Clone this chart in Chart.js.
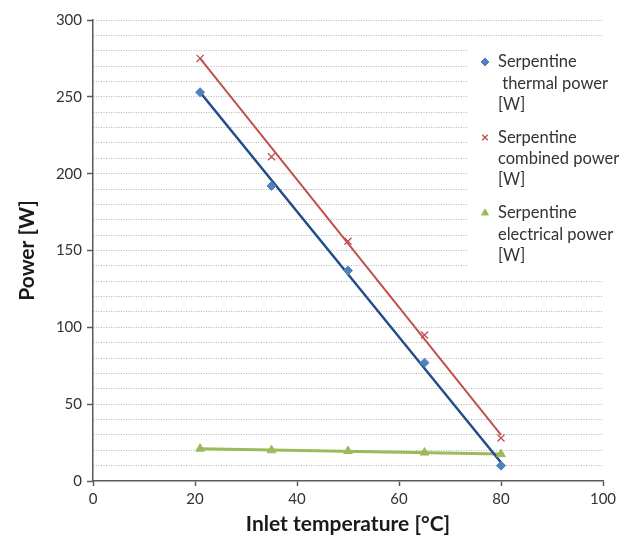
<!DOCTYPE html>
<html>
<head>
<meta charset="utf-8">
<script src="https://cdn.jsdelivr.net/npm/chart.js@4.4.0/dist/chart.umd.min.js"></script>
<style>
  html, body { margin: 0; padding: 0; background: #fff; }
  #wrap { width: 626px; height: 539px; position: relative; }
</style>
</head>
<body>
<div id="wrap"><canvas id="chart"></canvas></div>
<script>
// inlet temperatures [°C]
const temps = [21, 35, 50, 65, 80];
// measured power [W]
const thermalPower = [253, 192, 137, 77, 10];
const combinedPower = [275, 211, 156, 95, 28];
const electricalPower = [21, 20, 19.5, 18.5, 17.5];

// linear trend lines, end points
const trendX = [21, 80];
const thermalTrend = [253, 12];
const combinedTrend = [275, 30];
const electricalTrend = [21, 17.5];

const seriesLabels = [
  "Serpentine\n thermal power\n[W]",
  "Serpentine\ncombined power\n[W]",
  "Serpentine\nelectrical power\n[W]"
];

const xTicks = [0, 20, 40, 60, 80, 100];
const yTicks = [0, 50, 100, 150, 200, 250, 300];

const FONT = "Lato";
const TEXT = "#333";
const AXIS = "#5a5a5a";

const pts = (xs, ys) => xs.map((x, i) => ({ x: x, y: ys[i] }));

//Legend in a white box drawn over the plot on the right
const boxLegend = {
  id: "boxLegend",
  beforeDatasetsDraw(chart) {
    const ctx = chart.ctx;
    ctx.save();
    ctx.fillStyle = "#fff";
    ctx.fillRect(468, 42, 158, 228);
    ctx.font = "16.5px " + FONT;
    ctx.textBaseline = "middle";
    const markers = chart.data.datasets.filter((d) => !d.showLine);
    markers.forEach((ds, i) => {
      const y0 = 62 + i * 75.5;
      ctx.fillStyle = ds.backgroundColor;
      ctx.strokeStyle = ds.borderColor;
      ctx.lineWidth = ds.borderWidth;
      Chart.helpers.drawPoint(ctx, { pointStyle: ds.pointStyle, radius: 4, borderWidth: ds.borderWidth }, 485, y0);
      ctx.fillStyle = TEXT;
      ds.label.split("\n").forEach((line, j) => ctx.fillText(line, 498, y0 + j * 21.3));
    });
    ctx.restore();
  }
};

const markerSet = (label, data, style, color, radius, bw) => ({
  label: label,
  data: data,
  showLine: false,
  pointStyle: style,
  pointRadius: radius,
  pointHoverRadius: radius,
  backgroundColor: color,
  borderColor: color,
  borderWidth: bw,
  order: 0
});

const trendSet = (data, color, width) => ({
  label: "trend",
  data: data,
  showLine: true,
  pointRadius: 0,
  borderColor: color,
  borderWidth: width,
  fill: false,
  order: 1
});

new Chart(document.getElementById("chart"), {
  type: "scatter",
  data: {
    datasets: [
      markerSet(seriesLabels[0], pts(temps, thermalPower), "rectRot", "#4F81BD", 4.5, 1),
      markerSet(seriesLabels[1], pts(temps, combinedPower), "crossRot", "#C0504D", 5, 1.3),
      markerSet(seriesLabels[2], pts(temps, electricalPower), "triangle", "#9BBB59", 5, 1),
      trendSet(pts(trendX, thermalTrend), "#234D8A", 2.5),
      trendSet(pts(trendX, combinedTrend), "#C0504D", 2),
      trendSet(pts(trendX, electricalTrend), "#9BBB59", 3)
    ]
  },
  options: {
    responsive: true,
    maintainAspectRatio: false,
    animation: false,
    layout: { padding: { top: 20, right: 23, left: 0, bottom: 0 } },
    plugins: {
      legend: { display: false },
      tooltip: { enabled: false }
    },
    scales: {
      x: {
        type: "linear",
        min: 0,
        max: 100,
        afterBuildTicks: (scale) => { scale.ticks = xTicks.map((v) => ({ value: v })); },
        afterFit: (scale) => { scale.height = 58; },
        border: { display: true, color: AXIS, width: 1.5 },
        grid: { drawOnChartArea: false, drawTicks: true, tickLength: 5, tickColor: AXIS, tickWidth: 1.5 },
        ticks: { color: TEXT, font: { family: FONT, size: 15 }, padding: 4, maxRotation: 0 },
        title: {
          display: true,
          text: "Inlet temperature [°C]",
          color: "#1a1a1a",
          font: { family: FONT, size: 21, weight: "bold" },
          padding: { top: 0, bottom: 2 }
        }
      },
      y: {
        type: "linear",
        min: 0,
        max: 300,
        ticks: {
          stepSize: 10,
          autoSkip: false,
          color: TEXT,
          font: { family: FONT, size: 15 },
          padding: 5,
          callback: (v) => (yTicks.includes(v) ? v : "")
        },
        afterFit: (scale) => { scale.width = 93; },
        border: { display: true, color: AXIS, width: 1.5, dash: [1, 1.5] },
        grid: {
          color: (c) => (c.tick && c.tick.value === 0 ? "transparent" : "#b5b5b5"),
          lineWidth: 1,
          tickLength: 6,
          tickWidth: 1.5,
          tickBorderDash: [],
          tickColor: (c) => (c.tick && yTicks.includes(c.tick.value) ? AXIS : "transparent")
        },
        title: {
          display: true,
          text: "Power [W]",
          color: "#1a1a1a",
          font: { family: FONT, size: 21, weight: "bold" },
          padding: { top: 15, bottom: 0 }
        }
      }
    }
  },
  plugins: [boxLegend]
});
</script>
</body>
</html>
